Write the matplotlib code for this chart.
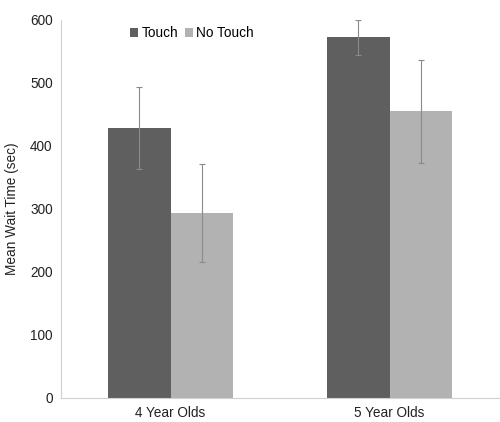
import matplotlib
matplotlib.use("Agg")
import matplotlib.pyplot as plt
import numpy as np

plt.rcParams["font.family"] = ["Liberation Sans", "DejaVu Sans"]

groups = ["4 Year Olds", "5 Year Olds"]
touch = [428, 572]
touch_err = [65, 28]
no_touch = [293, 455]
no_touch_err = [78, 82]

fig = plt.figure(figsize=(5, 4.22), dpi=100)
ax = fig.add_axes([0.122, 0.057, 0.876, 0.896])

x = np.arange(len(groups))
w = 0.286
ekw = dict(ecolor="#8a8a8a", elinewidth=0.8, capsize=2.5, capthick=0.8)
ax.bar(x - w / 2, touch, w, color="#5f5f5f", label="Touch",
       yerr=touch_err, error_kw=ekw)
ax.bar(x + w / 2, no_touch, w, color="#b2b2b2", label="No Touch",
       yerr=no_touch_err, error_kw=ekw)

ax.set_xlim(-0.5, 1.5)
ax.set_ylim(0, 600)
ax.set_yticks(range(0, 601, 100))
ax.set_xticks(x)
ax.set_xticklabels(groups)
ax.tick_params(length=0, labelsize=9.8, colors="#222222", pad=6)
ax.set_ylabel("Mean Wait Time (sec)", fontsize=9.8, color="#222222", labelpad=8)

for s in ["top", "right"]:
    ax.spines[s].set_visible(False)
ax.spines["left"].set_color("#d0d0d0")
ax.spines["bottom"].set_color("#d0d0d0")

ax.legend(loc="upper left", bbox_to_anchor=(0.13, 1.015), ncol=2, frameon=False,
          fontsize=9.8, handlelength=0.6, handleheight=0.6, handletextpad=0.25,
          columnspacing=0.45)

fig.savefig("out.png", dpi=100)
